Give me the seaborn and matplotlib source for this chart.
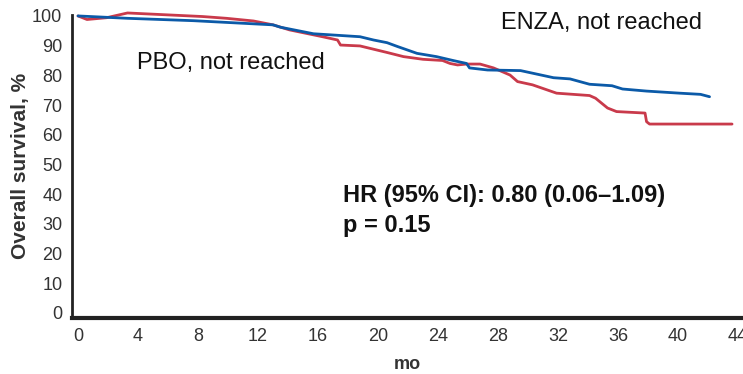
import matplotlib
matplotlib.use("Agg")
import matplotlib.pyplot as plt
import seaborn as sns
import pandas as pd

# Kaplan-Meier overall survival estimates (months, %)
enza_months = [0, 3.3, 7.7, 13.0, 13.5, 15.7, 18.8, 19.7, 20.6, 21.3, 22.6, 23.9,
               25.0, 25.9, 26.1, 27.3, 29.5, 31.7, 32.8, 34.1, 35.6, 36.3, 37.9,
               40.1, 41.5, 42.1]
enza_surv = [100, 99.2, 98.4, 97.0, 96.2, 94.0, 93.0, 91.9, 91.0, 89.7, 87.4, 86.3,
             85.0, 84.0, 82.5, 81.8, 81.6, 79.2, 78.8, 77.0, 76.5, 75.4, 74.7,
             74.0, 73.6, 72.8]

pbo_months = [0, 0.6, 1.9, 3.3, 8.3, 9.9, 11.7, 13.0, 14.1, 16.3, 17.3, 17.5,
              18.8, 19.7, 20.6, 21.7, 23.0, 24.3, 24.8, 25.3, 25.9, 26.8, 27.7,
              28.8, 29.3, 30.3, 31.9, 34.1, 34.5, 35.3, 35.9, 37.8, 37.9, 38.1,
              43.6]
pbo_surv = [100, 98.8, 99.4, 101.0, 99.8, 99.2, 98.3, 97.0, 95.3, 93.0, 91.9, 90.2,
            89.9, 88.8, 87.7, 86.3, 85.4, 85.0, 84.0, 83.5, 83.8, 83.8, 82.5,
            80.1, 77.9, 76.8, 74.0, 73.2, 72.3, 69.0, 67.8, 67.3, 64.4, 63.6,
            63.6]

arms = ["PBO", "ENZA"]
arm_colors = {"PBO": "#c93a4b", "ENZA": "#0b5aa8"}
x_ticks = list(range(0, 45, 4))
y_ticks = list(range(0, 101, 10))

df = pd.concat([
    pd.DataFrame({"mo": pbo_months, "surv": pbo_surv, "arm": "PBO"}),
    pd.DataFrame({"mo": enza_months, "surv": enza_surv, "arm": "ENZA"}),
], ignore_index=True)

sns.set_style("white")
plt.rcParams["font.family"] = ["Liberation Sans", "DejaVu Sans"]

fig = plt.figure(figsize=(7.43, 3.74), dpi=100)
ax = fig.add_axes([0.0969, 0.1497, 0.9031, 0.8196])

sns.lineplot(data=df, x="mo", y="surv", hue="arm", hue_order=arms,
             palette=arm_colors, estimator=None, sort=False, linewidth=2.0,
             legend=False, ax=ax)
for line in ax.lines:
    line.set_clip_on(False)
    line.set_solid_joinstyle("round")

ax.set_xlim(-0.4, 44.33)
ax.set_ylim(-1.7, 101.5)
ax.set_xticks(x_ticks)
ax.set_yticks(y_ticks)

tick_font = dict(size=13, color="#333333")
ax.set_xticklabels([str(t) for t in x_ticks], fontdict=tick_font)
ax.set_yticklabels([str(t) for t in y_ticks], fontdict=tick_font)
ax.tick_params(axis="both", direction="out", length=5, width=2.5, color="#222222", pad=2)

for side in ("top", "right"):
    ax.spines[side].set_visible(False)
ax.spines["left"].set_linewidth(2.0)
ax.spines["left"].set_color("#222222")
ax.spines["left"].set_bounds(-1.7, 100.3)
ax.spines["bottom"].set_linewidth(3.0)
ax.spines["bottom"].set_color("#222222")

ax.set_ylabel("Overall survival, %", fontsize=15, fontweight="bold", color="#333333")
ax.yaxis.set_label_coords(-0.0626, 0.497)
ax.set_xlabel("mo", fontsize=13, fontweight="bold", color="#333333", labelpad=8)

ax.text(34.9, 97.6, "ENZA, not reached", fontsize=17, ha="center", va="center", color="#111111")
ax.text(10.2, 84.0, "PBO, not reached", fontsize=17, ha="center", va="center", color="#111111")
ax.text(17.67, 39.7, "HR (95% CI): 0.80 (0.06\u20131.09)", fontsize=17, fontweight="bold",
        ha="left", va="center", color="#111111")
ax.text(17.67, 29.6, "p = 0.15", fontsize=17, fontweight="bold", ha="left", va="center",
        color="#111111")

fig.savefig("out.png", dpi=100)
